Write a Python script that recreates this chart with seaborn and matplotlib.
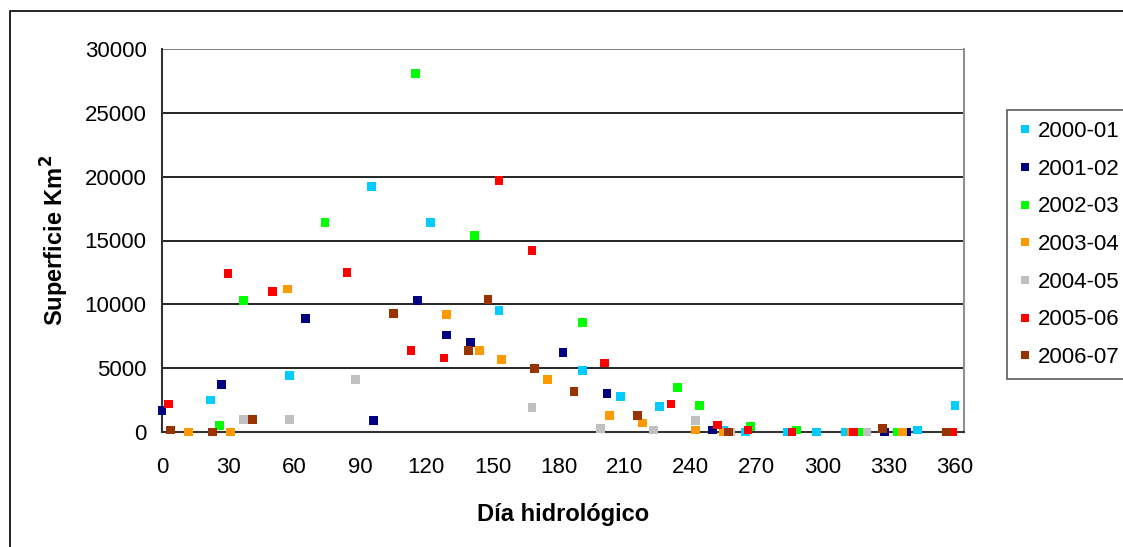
import numpy as np
import pandas as pd
import matplotlib
matplotlib.use("Agg")
import matplotlib.pyplot as plt
import seaborn as sns
from matplotlib.patches import Rectangle

# ---- data (día hidrológico, superficie km2) ----
series = ["2000-01", "2001-02", "2002-03", "2003-04", "2004-05", "2005-06", "2006-07"]
colors = ["#00CCFF", "#000080", "#00FF00", "#FF9900", "#C0C0C0", "#FF0000", "#993300"]

d2000_x = [22, 58, 95, 122, 153, 191, 208, 226, 255, 265, 284, 297, 310, 343, 360]
d2000_y = [2500, 4400, 19200, 16400, 9500, 4800, 2800, 2000, 100, 0, 0, 0, 0, 150, 2100]

d2001_x = [0, 27, 65, 96, 116, 129, 140, 182, 202, 250, 328, 338]
d2001_y = [1700, 3700, 8900, 900, 10300, 7600, 7000, 6200, 3000, 150, 0, 0]

d2002_x = [26, 37, 74, 115, 142, 191, 234, 244, 267, 288, 317, 334]
d2002_y = [500, 10300, 16400, 28100, 15400, 8600, 3500, 2100, 450, 150, 0, 0]

d2003_x = [12, 31, 57, 129, 144, 154, 175, 203, 218, 242, 255, 313, 336]
d2003_y = [0, 0, 11200, 9200, 6400, 5700, 4100, 1300, 700, 150, 0, 0, 0]

d2004_x = [37, 58, 88, 168, 199, 223, 242, 258, 320]
d2004_y = [1000, 1000, 4100, 1900, 300, 150, 900, 0, 0]

d2005_x = [3, 30, 50, 84, 113, 128, 153, 168, 201, 231, 252, 266, 286, 314, 359]
d2005_y = [2200, 12400, 11000, 12500, 6400, 5800, 19700, 14200, 5400, 2200, 550, 150, 0, 0, 0]

d2006_x = [4, 23, 41, 105, 139, 148, 169, 187, 216, 257, 327, 356]
d2006_y = [150, 0, 1000, 9300, 6400, 10400, 5000, 3200, 1300, 0, 300, 0]

xs = [d2000_x, d2001_x, d2002_x, d2003_x, d2004_x, d2005_x, d2006_x]
ys = [d2000_y, d2001_y, d2002_y, d2003_y, d2004_y, d2005_y, d2006_y]

frames = []
for name, x, y in zip(series, xs, ys):
    frames.append(pd.DataFrame({"dia": x, "sup": y, "serie": name}))
df = pd.concat(frames, ignore_index=True)

x_ticks = list(range(0, 361, 30))
y_ticks = list(range(0, 30001, 5000))

sns.set_style("white")
plt.rcParams["font.family"] = ["Liberation Sans", "DejaVu Sans"]
plt.rcParams["text.color"] = "black"
plt.rcParams["axes.labelcolor"] = "black"
plt.rcParams["xtick.color"] = "black"
plt.rcParams["ytick.color"] = "black"

fig = plt.figure(figsize=(11.23, 5.47), dpi=100)
ax = fig.add_axes([162 / 1123, 1 - 432 / 547, (964 - 162) / 1123, (432 - 49) / 547])

# outer chart frame
fig.patches.append(Rectangle((10 / 1123, -0.02), 1.2, 1 - 11 / 547 + 0.02,
                             transform=fig.transFigure, fill=False,
                             edgecolor="black", linewidth=1.2, zorder=0))

sns.scatterplot(data=df, x="dia", y="sup", hue="serie", hue_order=series,
                palette=dict(zip(series, colors)), marker="s", s=40,
                linewidth=0, ax=ax, clip_on=False, zorder=3)

ax.set_xlim(0, (964 - 162) / 2.203)
ax.set_ylim(0, 30000)
ax.set_xticks(x_ticks)
ax.set_yticks(y_ticks)
ax.tick_params(axis="both", labelsize=16, direction="out", length=6,
               width=1.2, color="#333333", labelcolor="black")
ax.tick_params(axis="x", pad=12)
ax.tick_params(axis="y", pad=5)
for yv in y_ticks[1:-1]:
    ax.axhline(yv, color="black", linewidth=1.2, zorder=1)
ax.axhline(30000, color="#808080", linewidth=1.5, zorder=1)

for side in ["left", "bottom"]:
    ax.spines[side].set_color("#333333")
    ax.spines[side].set_linewidth(1.5)
ax.spines["right"].set_color("#909090")
ax.spines["right"].set_linewidth(1.5)
ax.spines["top"].set_visible(False)

ax.set_xlabel("Día hidrológico", fontsize=17, fontweight="bold", labelpad=18)
ax.set_ylabel("Superficie Km$^{\\mathbf{2}}$", fontsize=17, fontweight="bold", labelpad=10)

handles, labels = ax.get_legend_handles_labels()
leg = ax.legend(handles, labels, loc="upper left", bbox_to_anchor=(1007 / 1123, 1 - 110 / 547),
                bbox_transform=fig.transFigure, frameon=True, fontsize=16,
                markerscale=0.8, handlelength=0.6, handletextpad=0.3, labelspacing=0.75,
                borderpad=0.5, borderaxespad=0, fancybox=False)
leg.get_frame().set_edgecolor("#333333")
leg.get_frame().set_linewidth(1.2)

fig.savefig("out.png", dpi=100)
